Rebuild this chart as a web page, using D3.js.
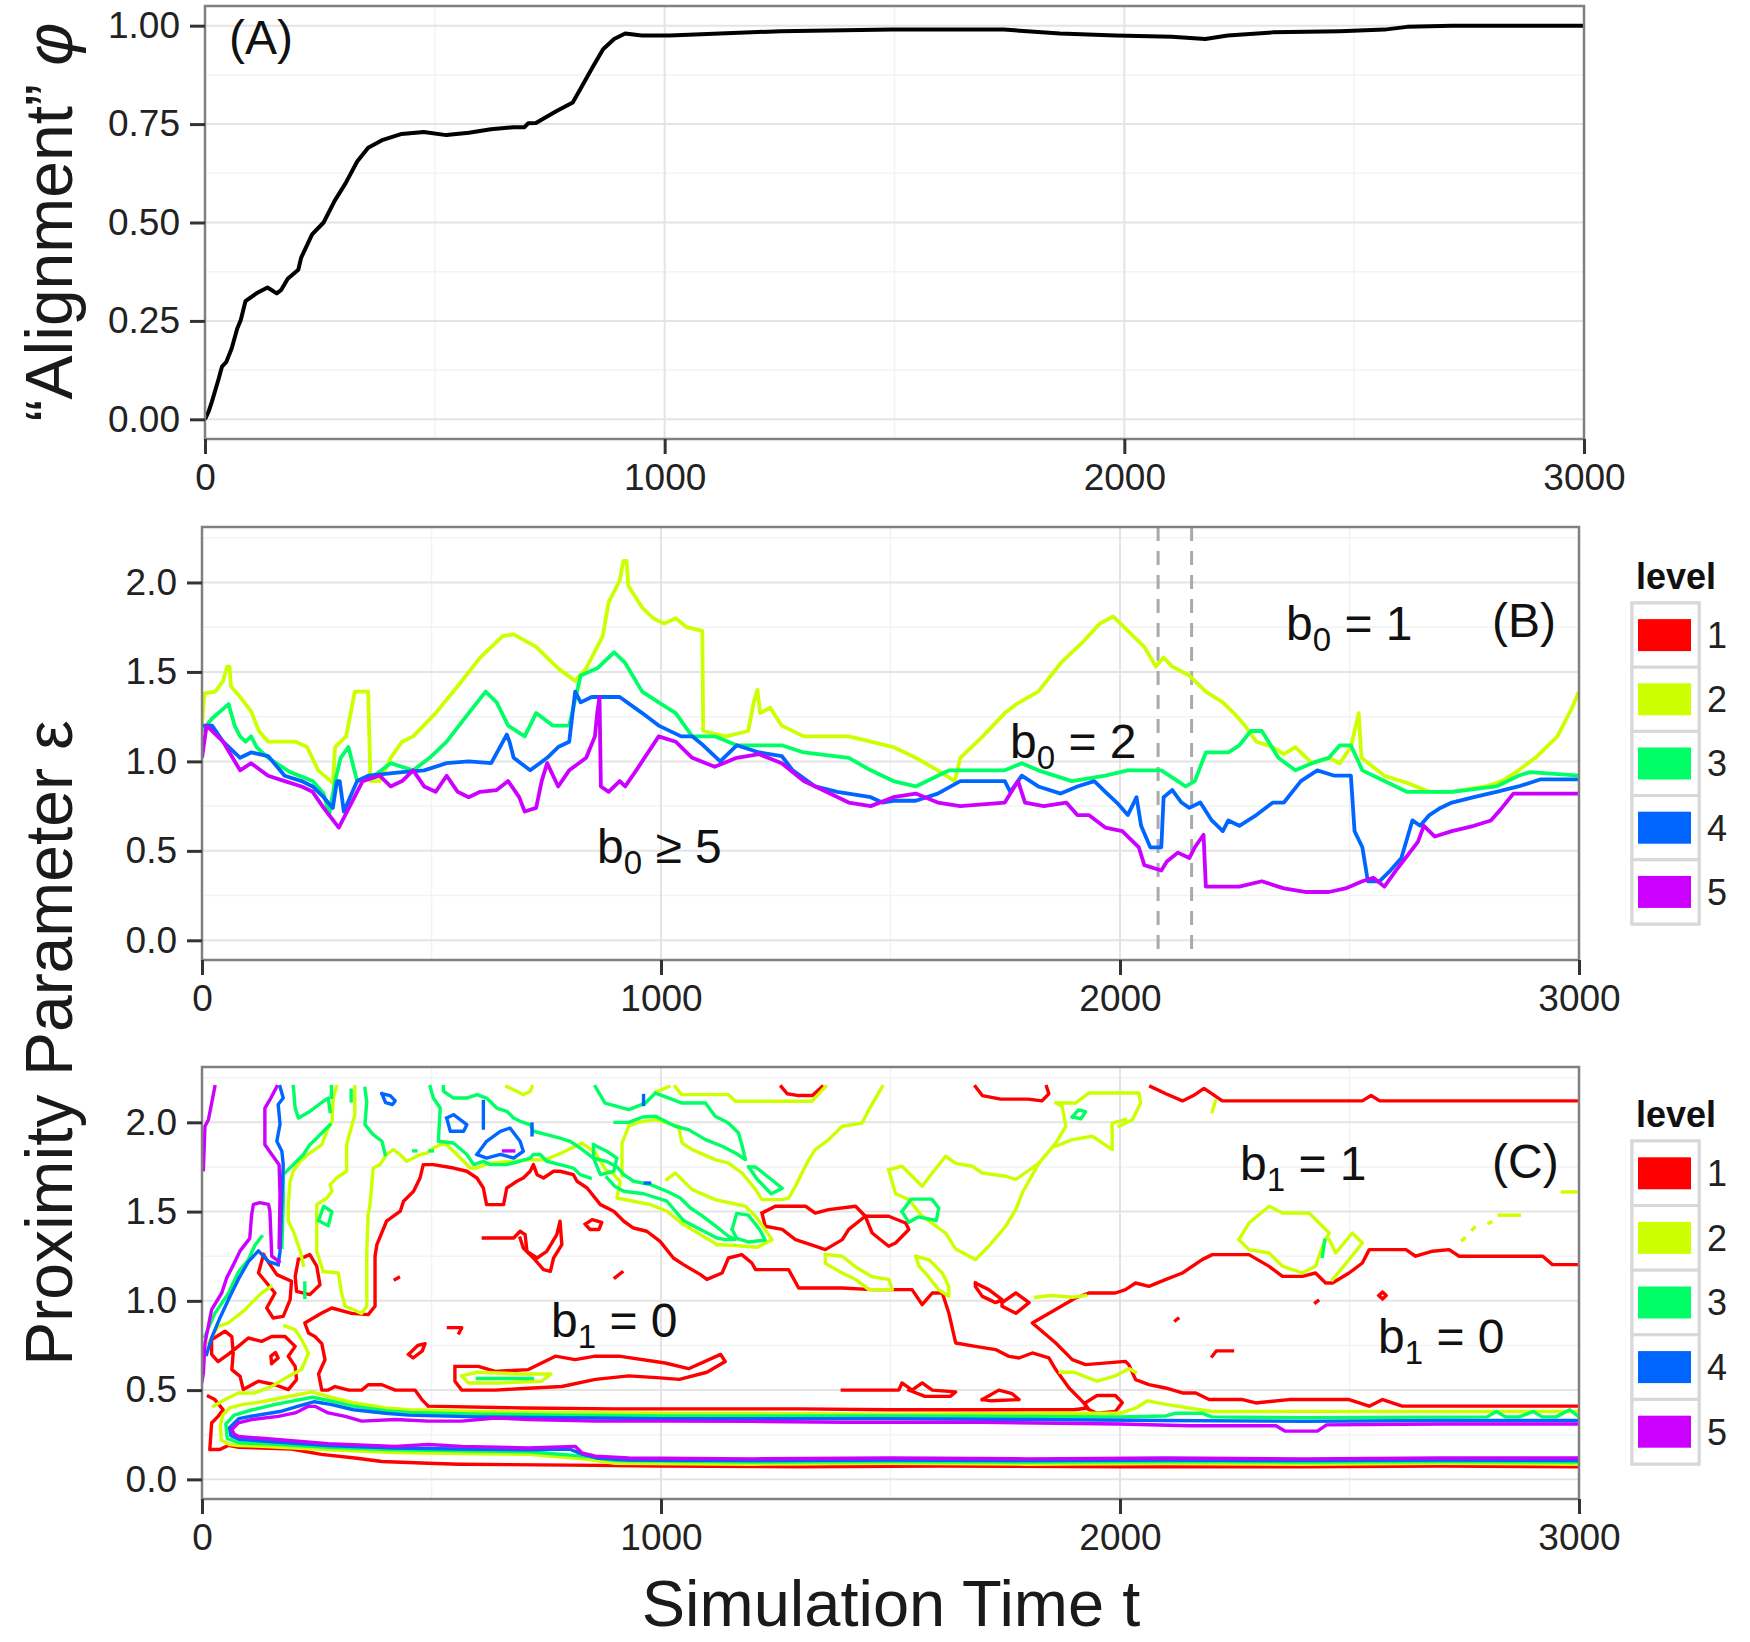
<!DOCTYPE html>
<html>
<head>
<meta charset="utf-8">
<script src="https://cdnjs.cloudflare.com/ajax/libs/d3/7.8.5/d3.min.js"></script>
<style>
body { margin: 0; background: #fff; }
text { font-family: "Liberation Sans", Arial, sans-serif; }
</style>
</head>
<body>
<script>

// ---------- data ----------

var levels = ['1', '2', '3', '4', '5']
var levelColors = ['#FF0000', '#CCFF00', '#00FF66', '#0066FF', '#CC00FF']

var xTicks = [0, 1000, 2000, 3000]
var xMinor = [500, 1500, 2500]
var phiTicks = [0, 0.25, 0.5, 0.75, 1]
var phiMinor = [0.125, 0.375, 0.625, 0.875]
var epsTicks = [0, 0.5, 1, 1.5, 2]
var epsMinor = [0.25, 0.75, 1.25, 1.75, 2.25]

// (A) alignment phi over time
var alignment = [[0,0],[8,0.02],[15,0.045],[29,0.10],[37,0.134],[46,0.145],[58,0.18],[70,0.23],[78,0.253],[88,0.30],[112,0.32],
 [136,0.335],[156,0.32],[166,0.329],[180,0.357],[203,0.38],[209,0.41],[233,0.47],[258,0.50],[282,0.555],[306,0.60],[331,0.655],
 [355,0.69],[387,0.71],[428,0.725],[476,0.73],[525,0.722],[574,0.728],[622,0.737],[671,0.742],[695,0.742],[703,0.752],[720,0.753],
 [763,0.782],[800,0.805],[817,0.84],[841,0.89],[866,0.94],[890,0.966],[914,0.98],[950,0.975],[1011,0.975],[1252,0.986],[1495,0.99],
 [1738,0.99],[1860,0.98],[1981,0.975],[2103,0.972],[2176,0.966],[2225,0.975],[2323,0.983],[2469,0.986],[2566,0.99],[2615,0.997],
 [2713,1.0],[3000,1.0]]

// (B) b0 level lines, epsilon over time
var b0Level2 = [[0,1.20],[5,1.38],[29,1.39],[46,1.45],[55,1.53],[60,1.53],[63,1.42],[83,1.36],[107,1.28],[124,1.17],[144,1.11],[204,1.11],
 [229,1.08],[253,0.95],[285,0.88],[290,1.08],[314,1.14],[333,1.39],[362,1.39],[367,0.89],[387,0.89],[411,1.02],[436,1.11],[460,1.14],
 [509,1.27],[557,1.42],[606,1.58],[655,1.70],[679,1.71],[728,1.64],[776,1.52],[813,1.45],[837,1.52],[873,1.70],[886,1.89],[910,2.01],
 [918,2.12],[925,2.12],[929,1.98],[959,1.86],[983,1.80],[1007,1.77],[1032,1.80],[1056,1.75],[1090,1.73],[1092,1.17],[1141,1.14],
 [1190,1.17],[1202,1.33],[1210,1.40],[1216,1.27],[1238,1.30],[1263,1.20],[1311,1.14],[1409,1.14],[1457,1.11],[1506,1.08],[1555,1.02],
 [1603,0.95],[1640,0.89],[1652,1.02],[1701,1.14],[1749,1.27],[1774,1.32],[1822,1.39],[1871,1.55],[1920,1.67],[1956,1.77],[1985,1.81],
 [2017,1.73],[2053,1.64],[2078,1.53],[2095,1.58],[2114,1.53],[2151,1.48],[2187,1.39],[2224,1.33],[2248,1.27],[2272,1.20],[2297,1.11],
 [2333,1.08],[2357,1.04],[2382,1.08],[2418,0.99],[2455,1.02],[2479,0.99],[2503,1.08],[2520,1.27],[2526,1.02],[2576,0.92],[2625,0.88],
 [2674,0.83],[2723,0.83],[2796,0.86],[2832,0.89],[2868,0.95],[2905,1.02],[2953,1.14],[2985,1.30],[3000,1.39]]

var b0Level3 = [[0,1.17],[22,1.24],[58,1.32],[71,1.20],[83,1.14],[95,1.11],[107,1.14],[119,1.08],[144,1.02],[192,0.94],[241,0.89],
 [265,0.82],[277,0.70],[290,0.89],[302,1.02],[319,1.08],[338,0.89],[375,0.92],[411,0.99],[460,0.95],[496,1.02],[533,1.11],[581,1.27],
 [618,1.39],[642,1.33],[667,1.20],[703,1.14],[728,1.27],[764,1.20],[800,1.20],[825,1.48],[861,1.52],[898,1.61],[922,1.55],[959,1.39],
 [995,1.33],[1032,1.27],[1068,1.14],[1117,1.14],[1165,1.09],[1263,1.09],[1311,1.05],[1409,1.02],[1457,0.95],[1506,0.89],[1555,0.86],
 [1603,0.92],[1628,0.95],[1749,0.95],[1786,0.99],[1822,0.95],[1895,0.89],[1968,0.92],[2017,0.95],[2090,0.95],[2126,0.89],[2143,0.86],
 [2163,0.89],[2187,1.05],[2236,1.05],[2260,1.09],[2285,1.17],[2309,1.17],[2345,1.02],[2382,0.95],[2418,0.99],[2455,1.02],[2479,1.09],
 [2503,1.09],[2528,0.95],[2576,0.89],[2625,0.83],[2723,0.83],[2820,0.86],[2868,0.92],[2893,0.94],[3000,0.92]]

var b0Level4 = [[0,1.20],[22,1.20],[46,1.11],[83,1.02],[107,1.05],[144,1.03],[180,0.92],[217,0.89],[241,0.86],[265,0.80],[285,0.74],
 [294,0.89],[300,0.89],[309,0.72],[338,0.89],[362,0.92],[436,0.94],[484,0.95],[533,0.99],[581,1.00],[630,0.99],[664,1.15],[670,1.11],
 [679,1.02],[715,0.95],[752,1.02],[776,1.08],[800,1.11],[813,1.39],[825,1.33],[849,1.36],[910,1.36],[959,1.27],[995,1.20],[1044,1.14],
 [1068,1.14],[1092,1.09],[1129,1.00],[1165,1.09],[1214,1.05],[1263,1.03],[1287,0.95],[1336,0.86],[1384,0.83],[1457,0.80],[1482,0.77],
 [1506,0.78],[1555,0.78],[1603,0.82],[1652,0.89],[1749,0.89],[1761,0.83],[1786,0.92],[1822,0.86],[1871,0.82],[1907,0.86],[1944,0.89],
 [1968,0.83],[1993,0.77],[2017,0.70],[2036,0.80],[2046,0.64],[2066,0.52],[2090,0.52],[2095,0.80],[2114,0.84],[2134,0.77],[2151,0.74],
 [2175,0.77],[2200,0.67],[2224,0.61],[2236,0.67],[2260,0.64],[2297,0.70],[2333,0.77],[2357,0.77],[2394,0.89],[2430,0.95],[2467,0.92],
 [2503,0.92],[2511,0.61],[2528,0.52],[2540,0.33],[2565,0.33],[2589,0.39],[2613,0.46],[2637,0.67],[2654,0.64],[2674,0.70],[2698,0.74],
 [2723,0.77],[2771,0.80],[2820,0.83],[2868,0.86],[2917,0.90],[3000,0.90]]

var b0Level5 = [[0,1.02],[10,1.20],[46,1.11],[83,0.95],[107,0.99],[144,0.92],[180,0.89],[217,0.86],[241,0.83],[265,0.74],[298,0.63],
 [326,0.77],[350,0.89],[387,0.92],[411,0.86],[436,0.89],[460,0.95],[484,0.86],[509,0.83],[533,0.92],[557,0.83],[581,0.80],[606,0.83],
 [642,0.84],[667,0.89],[691,0.80],[703,0.72],[728,0.74],[740,0.89],[752,0.99],[776,0.86],[800,0.95],[837,1.02],[856,1.14],[861,1.27],
 [866,1.36],[869,0.86],[886,0.83],[910,0.89],[922,0.86],[946,0.95],[995,1.14],[1032,1.11],[1068,1.02],[1117,0.97],[1165,1.02],[1214,1.04],
 [1263,0.99],[1311,0.89],[1360,0.83],[1409,0.77],[1457,0.75],[1506,0.80],[1555,0.82],[1603,0.77],[1652,0.75],[1749,0.77],[1778,0.89],
 [1793,0.77],[1834,0.75],[1883,0.77],[1907,0.70],[1932,0.70],[1968,0.63],[2005,0.61],[2041,0.52],[2053,0.42],[2090,0.39],[2102,0.44],
 [2126,0.49],[2151,0.46],[2163,0.52],[2182,0.59],[2187,0.30],[2260,0.30],[2309,0.33],[2357,0.29],[2406,0.27],[2455,0.27],[2491,0.29],
 [2528,0.33],[2552,0.35],[2576,0.30],[2601,0.39],[2625,0.47],[2649,0.55],[2662,0.64],[2686,0.58],[2723,0.61],[2771,0.64],[2808,0.67],
 [2832,0.74],[2857,0.82],[3000,0.82]]

var dashedTimes = [2083, 2156]

// (C) b1 contour lines, one list of polylines per level
var contourLevel1 = [
 [[1262,2.2],[1275,2.16],[1300,2.15],[1330,2.15],[1351,2.2]],
 [[1685,2.2],[1700,2.15],[1740,2.13],[1800,2.13],[1830,2.12],[1845,2.16],[1840,2.2]],
 [[2067,2.2],[2100,2.16],[2136,2.12],[2160,2.15],[2183,2.19],[2223,2.12],[2528,2.12],[2547,2.15],[2566,2.12],[3000,2.12]],
 [[493,0.41],[479,0.447],[464,0.50],[421,0.50],[392,0.53],[362,0.53],[348,0.50],[320,0.50],[290,0.52],[275,0.50],[261,0.50],[254,0.59],
  [268,0.67],[261,0.76],[246,0.80],[232,0.82],[224,0.876],[261,0.932],[283,0.96],[326,0.93],[362,0.923],[377,0.97],[377,1.25],[381,1.315],
  [402,1.446],[432,1.502],[439,1.558],[461,1.614],[475,1.688],[482,1.763],[504,1.763],[548,1.744],[577,1.726],[599,1.688],[613,1.632],
  [620,1.539],[657,1.539],[664,1.632],[686,1.67],[700,1.688],[715,1.726],[722,1.763],[730,1.707],[744,1.688],[766,1.726],[780,1.726],
  [809,1.707],[817,1.67],[839,1.632],[868,1.539],[897,1.502],[919,1.446],[940,1.408],[969,1.39],[998,1.333],[1027,1.24],[1049,1.203],
  [1086,1.147],[1100,1.12],[1133,1.156],[1147,1.24],[1176,1.259],[1198,1.212],[1206,1.175],[1278,1.175],[1300,1.072],[1395,1.072],
  [1460,1.063],[1547,1.063],[1569,0.979],[1591,1.044],[1613,1.044],[1627,0.932],[1642,0.764],[1685,0.745],[1729,0.727],[1758,0.689],
  [1780,0.68],[1809,0.708],[1845,0.68],[1860,0.615],[1889,0.512],[1918,0.437],[1930,0.40],[1900,0.39],[1700,0.39],[1500,0.39],
  [1300,0.395],[1100,0.395],[900,0.395],[700,0.40],[493,0.41]],
 [[3000,1.203],[2942,1.203],[2921,1.25],[2739,1.25],[2717,1.287],[2681,1.278],[2644,1.25],[2623,1.287],[2543,1.287],[2528,1.212],
  [2499,1.156],[2463,1.10],[2448,1.10],[2426,1.156],[2397,1.137],[2354,1.137],[2325,1.193],[2281,1.259],[2201,1.259],[2179,1.231],
  [2136,1.156],[2099,1.119],[2063,1.081],[2034,1.10],[2012,1.063],[1990,1.044],[1932,1.044],[1903,1.016],[1809,0.876],[1860,0.764],
  [1896,0.671],[1925,0.643],[2012,0.661],[2019,0.643],[2034,0.559],[2063,0.531],[2099,0.512],[2136,0.484],[2165,0.484],[2194,0.447],
  [2267,0.447],[2296,0.428],[2368,0.447],[2499,0.447],[2543,0.41],[2572,0.447],[2615,0.41],[3000,0.41]],
 [[14,0.465],[28,0.447],[46,0.39],[35,0.353],[21,0.316],[17,0.167],[39,0.167],[57,0.19],[80,0.18],[130,0.175],[195,0.17],[260,0.14],
  [333,0.12],[392,0.10],[493,0.09],[560,0.085],[800,0.08],[1000,0.075],[1300,0.07],[1600,0.075],[2000,0.07],[2400,0.07],[2700,0.075],[3000,0.07]],
 [[134,1.259],[123,1.156],[159,1.044],[141,0.96],[155,0.904],[177,0.913],[192,1.007],[195,1.11],[163,1.147],[141,1.231],[134,1.259]],
 [[210,1.231],[235,1.259],[250,1.194],[257,1.09],[235,1.035],[206,1.053],[203,1.138],[210,1.231]],
 [[21,0.783],[50,0.83],[65,0.80],[68,0.708],[65,0.615],[83,0.577],[90,0.503],[123,0.55],[159,0.53],[188,0.503],[206,0.559],[203,0.633],
  [188,0.69],[203,0.745],[181,0.80],[152,0.80],[130,0.773],[101,0.792],[79,0.745],[57,0.70],[35,0.66],[21,0.70],[21,0.783]],
 [[152,0.65],[166,0.68],[160,0.71],[150,0.69],[152,0.65]],
 [[835,1.43],[850,1.455],[871,1.44],[865,1.40],[845,1.40],[835,1.43]],
 [[450,0.70],[470,0.75],[486,0.76],[480,0.72],[460,0.68],[450,0.70]],
 [[537,0.85],[566,0.85],[560,0.82]],
 [[900,1.13],[915,1.16]],
 [[421,1.12],[428,1.13]],
 [[2564,1.03],[2572,1.05],[2580,1.03],[2572,1.01],[2564,1.03]],
 [[2426,0.99],[2431,1.0]],
 [[2121,0.89],[2126,0.90]],
 [[2201,0.69],[2210,0.72],[2245,0.72]],
 [[613,1.352],[679,1.352],[693,1.39],[704,1.371],[708,1.277],[730,1.24],[751,1.277],[773,1.371],[780,1.446],[784,1.315],[766,1.24],
  [759,1.165],[744,1.175],[722,1.24],[700,1.296],[693,1.352]],
 [[1220,1.492],[1249,1.53],[1315,1.53],[1336,1.492],[1365,1.511],[1424,1.53],[1445,1.474],[1409,1.40],[1395,1.343],[1358,1.287],
  [1336,1.306],[1293,1.343],[1264,1.40],[1227,1.418],[1220,1.492]],
 [[1445,1.474],[1496,1.474],[1533,1.436],[1540,1.40],[1511,1.324],[1496,1.306],[1460,1.38],[1445,1.474]],
 [[1685,1.10],[1714,1.063],[1743,1.007],[1729,0.99],[1700,1.025],[1685,1.08],[1685,1.10]],
 [[1743,0.99],[1773,1.044],[1802,0.99],[1773,0.93],[1743,0.97],[1743,0.99]],
 [[551,0.633],[602,0.633],[639,0.605],[711,0.615],[770,0.69],[813,0.671],[857,0.69],[908,0.69],[1009,0.652],[1060,0.62],[1130,0.70],
  [1140,0.66],[1100,0.60],[1040,0.56],[990,0.57],[930,0.58],[857,0.56],[784,0.52],[711,0.51],[639,0.50],[566,0.50],[551,0.55],[551,0.633]],
 [[1925,0.43],[1950,0.47],[1990,0.47],[2005,0.43],[1990,0.38],[1950,0.37],[1925,0.40],[1925,0.43]],
 [[1395,0.50],[1518,0.50],[1525,0.54],[1547,0.50],[1569,0.54],[1591,0.50],[1642,0.49],[1630,0.465],[1575,0.465],[1540,0.50]],
 [[1700,0.447],[1736,0.50],[1765,0.48],[1780,0.447],[1720,0.44],[1700,0.447]]
]

var contourLevel2 = [
 [[3000,0.38],[2200,0.38],[2150,0.40],[2100,0.42],[2060,0.44],[2035,0.40],[2000,0.37],[1800,0.37],[1500,0.365],[1200,0.37],[1000,0.37],
  [800,0.375],[600,0.38],[450,0.39],[400,0.40],[330,0.43],[280,0.46],[240,0.49],[200,0.47],[160,0.45],[120,0.43],[90,0.42],[60,0.40],
  [45,0.36],[40,0.30],[42,0.22],[60,0.195],[80,0.19],[130,0.185],[275,0.165],[421,0.15],[560,0.145],[711,0.14],[830,0.115],[900,0.09],
  [1200,0.085],[1500,0.09],[1800,0.085],[2100,0.09],[2400,0.085],[2700,0.09],[3000,0.085]],
 [[988,2.17],[1017,2.2]],
 [[1031,2.2],[1045,2.155],[1147,2.155],[1162,2.118],[1329,2.118],[1358,2.2]],
 [[915,1.70],[915,1.884],[930,1.98],[950,2.0],[988,2.015],[1038,1.978],[1046,1.884],[1068,1.847],[1118,1.791],[1147,1.772],[1177,1.716],
  [1206,1.623],[1220,1.567],[1264,1.567],[1278,1.576],[1293,1.642],[1307,1.716],[1322,1.791],[1336,1.847],[1365,1.903],[1395,1.978],
  [1438,1.996],[1453,2.071],[1482,2.2]],
 [[264,1.165],[297,1.156],[304,1.044],[312,0.97],[348,0.93],[359,0.97],[359,1.277],[362,1.483],[366,1.539],[373,1.744],[388,1.763],
  [402,1.82],[417,1.847],[431,1.82],[446,1.782],[461,1.80],[475,1.82],[490,1.828],[504,1.856],[519,1.875],[533,1.875],[548,1.838],
  [570,1.782],[584,1.744],[599,1.744],[624,1.77],[711,1.79],[748,1.79],[784,1.83],[828,1.884],[857,1.83],[879,1.735],[897,1.707],
  [911,1.67],[904,1.576],[940,1.558],[977,1.539],[1013,1.502],[1049,1.427],[1086,1.371],[1122,1.315]],
 [[1013,1.68],[1031,1.716],[1068,1.623],[1118,1.567],[1184,1.53],[1206,1.474],[1227,1.399],[1242,1.343],[1210,1.30],[1160,1.31],[1122,1.315]],
 [[1358,1.26],[1395,1.25],[1424,1.19],[1460,1.135],[1496,1.12],[1504,1.063],[1453,1.063],[1424,1.12],[1395,1.156],[1358,1.21],[1358,1.26]],
 [[1555,1.25],[1584,1.23],[1613,1.156],[1627,1.081],[1627,1.025],[1605,1.063],[1576,1.156],[1562,1.194],[1555,1.25]],
 [[1496,1.735],[1525,1.754],[1540,1.716],[1569,1.642],[1591,1.716],[1620,1.81],[1642,1.77],[1678,1.754],[1700,1.716],[1751,1.698],
  [1773,1.68],[1823,1.77],[1860,1.884],[1882,1.978],[1874,2.09],[1860,2.108],[1903,2.108],[1932,2.164],[2012,2.164],[2041,2.164],
  [2045,2.108],[2027,2.015],[1998,1.978]],
 [[1823,1.77],[1787,1.604],[1773,1.511],[1751,1.418],[1714,1.306],[1685,1.231],[1642,1.29],[1620,1.38],[1569,1.474],[1540,1.567],
  [1511,1.60],[1496,1.735]],
 [[2012,2.015],[1983,1.996],[1983,1.847],[1940,1.922],[1896,1.903],[1860,1.866]],
 [[2259,1.343],[2281,1.436],[2325,1.53],[2354,1.492],[2412,1.492],[2456,1.38],[2441,1.306],[2426,1.194],[2397,1.156],[2354,1.194],
  [2325,1.268],[2281,1.287],[2259,1.343]],
 [[2456,1.343],[2470,1.268],[2506,1.38],[2528,1.324],[2499,1.231],[2463,1.119]],
 [[2826,1.48],[2870,1.48]],
 [[2964,1.61],[2993,1.61]],
 [[2201,2.06],[2208,2.12]],
 [[2746,1.34],[2750,1.35]],
 [[2768,1.40],[2772,1.41]],
 [[2804,1.436],[2808,1.44]],
 [[1816,1.02],[1850,1.03],[1896,1.02],[1925,1.03]],
 [[1870,0.60],[1900,0.60],[1930,0.57],[1950,0.55],[1990,0.58],[2020,0.62],[2034,0.60]],
 [[333,2.2],[333,2.043],[315,1.875],[315,1.726],[293,1.688],[279,1.651],[283,1.614],[272,1.576],[250,1.539],[250,1.277],[264,1.165]],
 [[293,2.2],[286,2.136],[283,2.006],[272,1.95],[261,1.875],[235,1.828],[214,1.782],[199,1.726],[192,1.67],[188,1.539],[188,1.446],
  [199,1.39],[214,1.28],[221,1.20]],
 [[664,2.2],[686,2.174],[700,2.155],[715,2.174],[719,2.2]],
 [[14,0.764],[35,0.857],[57,0.876],[94,0.951],[115,1.007],[130,1.044],[150,1.08]],
 [[25,0.41],[50,0.447],[79,0.484],[115,0.484],[152,0.521],[188,0.577],[217,0.615],[232,0.708],[217,0.783],[203,0.839],[180,0.86]],
 [[566,0.58],[600,0.60],[700,0.59],[760,0.59],[740,0.55],[650,0.54],[580,0.54],[566,0.58]]
]

var contourLevel3 = [
 [[3000,0.35],[2980,0.39],[2950,0.35],[2920,0.35],[2900,0.38],[2870,0.35],[2840,0.35],[2820,0.38],[2800,0.35],[2400,0.345],[2200,0.35],
  [2180,0.37],[2120,0.37],[2100,0.355],[2000,0.35],[1500,0.355],[1200,0.355],[1000,0.355],[800,0.36],[600,0.365],[450,0.375],[400,0.385],
  [330,0.41],[280,0.44],[240,0.46],[200,0.44],[160,0.42],[110,0.39],[70,0.36],[52,0.31],[55,0.23],[80,0.205],[130,0.2],[275,0.18],
  [421,0.165],[560,0.16],[711,0.155],[830,0.13],[900,0.105],[1200,0.097],[1500,0.1],[1800,0.097],[2100,0.1],[2400,0.097],[2700,0.1],[3000,0.097]],
 [[199,2.2],[203,2.08],[210,2.024],[235,2.061],[264,2.117],[275,2.136],[279,2.06]],
 [[174,1.30],[177,1.55],[177,1.707],[199,1.763],[221,1.82],[235,1.875],[250,1.912],[279,1.987]],
 [[355,2.19],[359,2.117],[355,1.987],[373,1.931],[392,1.894],[399,1.82]],
 [[497,2.2],[504,2.136],[519,2.08],[515,1.894],[548,1.884],[577,1.82],[592,1.763],[613,1.782],[628,1.763],[664,1.763],[693,1.782],
  [715,1.80],[722,1.82],[737,1.82],[751,1.782],[780,1.763],[809,1.744],[824,1.707],[846,1.688]],
 [[526,2.2],[526,2.174],[548,2.136],[577,2.136],[599,2.155],[620,2.136],[642,2.08],[664,2.062],[679,2.024],[693,2.006],[715,1.987],
  [722,1.95],[751,1.931],[780,1.912],[802,1.894],[824,1.856],[853,1.80],[882,1.78],[904,1.75],[919,1.707],[940,1.67],[977,1.651],
  [1013,1.614],[1042,1.576],[1064,1.52],[1086,1.483],[1115,1.427],[1147,1.362],[1162,1.343],[1140,1.343],[1122,1.352],[1086,1.40],
  [1049,1.45],[1013,1.558],[962,1.60],[919,1.614],[900,1.64],[882,1.69]],
 [[853,1.875],[882,1.838],[904,1.80],[897,1.726],[868,1.707],[853,1.80],[853,1.875]],
 [[857,2.2],[878,2.108],[930,2.071],[966,2.108],[988,2.164],[1046,2.108],[1097,2.108],[1118,2.034],[1147,1.996],[1169,1.94],[1177,1.866],
  [1184,1.791],[1162,1.828],[1133,1.866],[1097,1.903],[1060,1.959],[1031,1.978],[988,2.034],[960,2.03],[930,2.0],[900,2.0]],
 [[1155,1.40],[1165,1.49],[1190,1.48],[1215,1.40],[1227,1.34],[1190,1.33],[1165,1.35],[1155,1.40]],
 [[1191,1.75],[1206,1.75],[1250,1.66],[1264,1.63],[1240,1.60],[1210,1.68],[1191,1.75]],
 [[1525,1.50],[1545,1.57],[1590,1.57],[1605,1.52],[1600,1.45],[1560,1.47],[1540,1.44],[1525,1.50]],
 [[1896,2.03],[1910,2.07],[1925,2.06],[1915,2.02],[1896,2.03]],
 [[6,0.80],[28,0.93],[57,1.04],[79,1.16],[101,1.23],[115,1.31],[130,1.36]],
 [[254,1.45],[265,1.53],[283,1.50],[275,1.42],[254,1.45]],
 [[224,1.02],[224,1.10]],
 [[282,2.14],[282,2.2]],
 [[325,2.12],[325,2.18]],
 [[461,1.84],[466,1.84]],
 [[497,1.84],[502,1.84]],
 [[600,0.565],[720,0.565]],
 [[2441,1.25],[2446,1.34]]
]

var contourLevel4 = [
 [[3000,0.33],[2700,0.33],[2400,0.325],[2100,0.33],[1800,0.335],[1500,0.34],[1200,0.34],[1000,0.34],[800,0.345],[600,0.35],[450,0.36],
  [400,0.37],[330,0.39],[280,0.42],[245,0.435],[210,0.41],[170,0.38],[110,0.355],[80,0.34],[60,0.29],[63,0.245],[80,0.225],[130,0.215],
  [275,0.19],[421,0.175],[560,0.17],[711,0.165],[800,0.17],[830,0.14],[860,0.12],[930,0.108],[1200,0.105],[1500,0.108],[1800,0.105],
  [2100,0.108],[2400,0.105],[2700,0.108],[3000,0.105]],
 [[170,2.2],[177,2.136],[166,2.10],[170,1.99],[163,1.894],[174,1.838],[177,1.763],[174,1.576],[170,1.277],[166,1.203]],
 [[166,1.203],[145,1.22],[123,1.28],[101,1.22],[79,1.12],[60,1.02],[40,0.91],[22,0.80],[10,0.70]],
 [[392,2.16],[410,2.15],[421,2.12],[415,2.10],[400,2.11],[392,2.16]],
 [[533,2.024],[548,2.043],[577,1.987],[570,1.95],[541,1.95],[533,2.024]],
 [[599,1.82],[620,1.894],[650,1.95],[671,1.968],[693,1.894],[700,1.838],[679,1.80],[650,1.82],[620,1.80],[599,1.82]],
 [[613,2.117],[613,1.968]],
 [[719,1.93],[719,1.99]],
 [[962,2.10],[962,2.15]],
 [[966,1.66],[975,1.66]]
]

var contourLevel5 = [
 [[3000,0.31],[2700,0.31],[2450,0.305],[2430,0.27],[2360,0.27],[2340,0.30],[2150,0.30],[2000,0.31],[1700,0.32],[1400,0.32],[1200,0.325],
  [1009,0.326],[857,0.326],[711,0.335],[639,0.344],[566,0.326],[493,0.326],[421,0.335],[348,0.326],[312,0.353],[275,0.372],[246,0.409],
  [232,0.409],[203,0.372],[166,0.353],[108,0.335],[79,0.316],[65,0.279],[70,0.255],[79,0.24],[130,0.23],[275,0.20],[421,0.185],[493,0.195],
  [566,0.185],[711,0.176],[813,0.185],[828,0.148],[857,0.13],[930,0.12],[1200,0.115],[1500,0.12],[1800,0.115],[2100,0.12],[2400,0.115],
  [2700,0.12],[3000,0.12]],
 [[28,2.2],[14,2.015],[6.5,1.978],[3,1.735]],
 [[163,2.2],[150,2.136],[137,2.08],[137,1.875],[152,1.82],[168,1.763],[170,1.60],[168,1.30]],
 [[168,1.22],[152,1.25],[148,1.50],[145,1.54],[126,1.55],[112,1.54],[108,1.48],[104,1.35],[83,1.28],[68,1.20],[54,1.13],[43,1.044],
  [21,0.951],[6.5,0.764],[3,0.596],[0,0.55]],
 [[657,1.84],[679,1.84]]
]

var contours = [contourLevel1, contourLevel2, contourLevel3, contourLevel4, contourLevel5]
var b0Lines = [b0Level2, b0Level3, b0Level4, b0Level5]

// ---------- drawing ----------

var svg = d3.select('body').append('svg').attr('width', 1750).attr('height', 1642)

var xA = d3.scaleLinear().domain([0, 3000]).range([205, 1584])
var yA = d3.scaleLinear().domain([-0.05, 1.05]).range([439, 6])
var xB = d3.scaleLinear().domain([0, 3000]).range([202, 1579])
var yB = d3.scaleLinear().domain([-0.11, 2.31]).range([960, 527])
var yC = d3.scaleLinear().domain([-0.11, 2.31]).range([1499, 1067])

function panelBack(id, x, y, yMajor, yMin) {
  var g = svg.append('g')
  var x0 = x.range()[0], x1 = x.range()[1], y0 = y.range()[1], y1 = y.range()[0]
  svg.append('clipPath').attr('id', id).append('rect')
    .attr('x', x0).attr('y', y0).attr('width', x1 - x0).attr('height', y1 - y0)

  g.selectAll('.ymin').data(yMin).enter().append('line')
    .attr('x1', x0).attr('x2', x1).attr('y1', function(d) { return y(d) }).attr('y2', function(d) { return y(d) })
    .attr('stroke', '#f3f3f3').attr('stroke-width', 1.5)
  g.selectAll('.xmin').data(xMinor).enter().append('line')
    .attr('y1', y0).attr('y2', y1).attr('x1', function(d) { return x(d) }).attr('x2', function(d) { return x(d) })
    .attr('stroke', '#f3f3f3').attr('stroke-width', 1.5)
  g.selectAll('.ymaj').data(yMajor).enter().append('line')
    .attr('x1', x0).attr('x2', x1).attr('y1', function(d) { return y(d) }).attr('y2', function(d) { return y(d) })
    .attr('stroke', '#e4e4e4').attr('stroke-width', 2)
  g.selectAll('.xmaj').data(xTicks).enter().append('line')
    .attr('y1', y0).attr('y2', y1).attr('x1', function(d) { return x(d) }).attr('x2', function(d) { return x(d) })
    .attr('stroke', '#e4e4e4').attr('stroke-width', 2)
}

function panelFront(x, y, yMajor, fmt) {
  var x0 = x.range()[0], x1 = x.range()[1], y0 = y.range()[1], y1 = y.range()[0]
  svg.append('rect').attr('x', x0).attr('y', y0).attr('width', x1 - x0).attr('height', y1 - y0)
    .attr('fill', 'none').attr('stroke', '#808080').attr('stroke-width', 2.5)

  var ax = svg.append('g').attr('transform', 'translate(' + x0 + ',0)')
    .call(d3.axisLeft(y).tickValues(yMajor).tickFormat(d3.format(fmt)).tickSize(15).tickPadding(10))
  var bx = svg.append('g').attr('transform', 'translate(0,' + y1 + ')')
    .call(d3.axisBottom(x).tickValues(xTicks).tickFormat(d3.format('d')).tickSize(15).tickPadding(10))
  ;[ax, bx].forEach(function(a) {
    a.select('.domain').remove()
    a.attr('font-size', 37).attr('font-family', '"Liberation Sans", Arial, sans-serif')
    a.selectAll('line').attr('stroke', '#333').attr('stroke-width', 3)
    a.selectAll('text').attr('fill', '#222')
  })
}

// panel A
panelBack('clipA', xA, yA, phiTicks, phiMinor)
var lineA = d3.line().x(function(d) { return xA(d[0]) }).y(function(d) { return yA(d[1]) })
svg.append('path').attr('d', lineA(alignment)).attr('fill', 'none').attr('stroke', '#000')
  .attr('stroke-width', 4).attr('stroke-linejoin', 'round').attr('clip-path', 'url(#clipA)')
panelFront(xA, yA, phiTicks, '.2f')

// panel B
panelBack('clipB', xB, yB, epsTicks, epsMinor)
var lineB = d3.line().x(function(d) { return xB(d[0]) }).y(function(d) { return yB(d[1]) })
svg.append('g').selectAll('line').data(dashedTimes).enter().append('line')
  .attr('x1', function(d) { return xB(d) }).attr('x2', function(d) { return xB(d) })
  .attr('y1', yB.range()[1]).attr('y2', yB.range()[0])
  .attr('stroke', '#aaaaaa').attr('stroke-width', 3).attr('stroke-dasharray', '14,10')
svg.append('g').attr('clip-path', 'url(#clipB)').selectAll('path').data(b0Lines).enter().append('path')
  .attr('d', function(d) { return lineB(d) })
  .attr('fill', 'none').attr('stroke-width', 3.8).attr('stroke-linejoin', 'round')
  .attr('stroke', function(d, i) { return levelColors[i + 1] })
panelFront(xB, yB, epsTicks, '.1f')

// panel C
panelBack('clipC', xB, yC, epsTicks, epsMinor)
var lineC = d3.line().x(function(d) { return xB(d[0]) }).y(function(d) { return yC(d[1]) })
var cg = svg.append('g').attr('clip-path', 'url(#clipC)')
contours.forEach(function(paths, i) {
  cg.append('g').selectAll('path').data(paths).enter().append('path')
    .attr('d', function(d) { return lineC(d) })
    .attr('fill', 'none').attr('stroke', levelColors[i]).attr('stroke-width', 3.4)
    .attr('stroke-linejoin', 'round').attr('stroke-linecap', 'square')
})
panelFront(xB, yC, epsTicks, '.1f')

// legends
function legend(titleY, top, keyH) {
  var g = svg.append('g')
  g.append('text').attr('x', 1636).attr('y', titleY).attr('font-size', 36).attr('font-weight', 'bold')
    .attr('fill', '#111').text('level')
  g.append('rect').attr('x', 1632).attr('y', top).attr('width', 67).attr('height', keyH * levels.length)
    .attr('fill', '#fff').attr('stroke', '#d0d0d0').attr('stroke-width', 3)
  var k = g.selectAll('.key').data(levels).enter().append('g')
    .attr('transform', function(d, i) { return 'translate(1632,' + (top + i * keyH) + ')' })
  k.append('rect').attr('x', 0).attr('y', 0).attr('width', 67).attr('height', keyH)
    .attr('fill', '#fff').attr('stroke', '#d8d8d8').attr('stroke-width', 3)
  k.append('rect').attr('x', 6).attr('y', keyH / 2 - 16).attr('width', 53).attr('height', 32)
    .attr('fill', function(d, i) { return levelColors[i] })
  k.append('text').attr('x', 75).attr('y', keyH / 2).attr('dy', '0.36em').attr('font-size', 36)
    .attr('fill', '#222').text(function(d) { return d })
}
legend(589, 603, 64.2)
legend(1127, 1141, 64.6)

// annotations
function note(x, y, base, sub, rest) {
  var t = svg.append('text').attr('x', x).attr('y', y).attr('font-size', 48).attr('fill', '#111')
  t.append('tspan').text(base)
  if (sub) {
    t.append('tspan').attr('font-size', 33).attr('dy', 11).text(sub)
    t.append('tspan').attr('dy', -11).text(rest)
  }
}
note(229, 54, '(A)')
note(1492, 637, '(B)')
note(1286, 640, 'b', '0', ' = 1')
note(1010, 758, 'b', '0', ' = 2')
note(597, 863, 'b', '0', ' \u2265 5')
note(1492, 1178, '(C)')
note(1240, 1180, 'b', '1', ' = 1')
note(551, 1337, 'b', '1', ' = 0')
note(1378, 1353, 'b', '1', ' = 0')

// axis titles
var ta = svg.append('text').attr('transform', 'translate(72,222) rotate(-90)').attr('text-anchor', 'middle')
  .attr('font-size', 66).attr('fill', '#1a1a1a')
ta.append('tspan').text('\u201CAlignment\u201D ')
ta.append('tspan').attr('font-style', 'italic').text('\u03C6')
svg.append('text').attr('transform', 'translate(72,1043) rotate(-90)').attr('text-anchor', 'middle')
  .attr('font-size', 66).attr('fill', '#1a1a1a').text('Proximity Parameter \u03B5')
svg.append('text').attr('x', 891).attr('y', 1626).attr('text-anchor', 'middle')
  .attr('font-size', 65).attr('fill', '#1a1a1a').text('Simulation Time t')

</script>
</body>
</html>
